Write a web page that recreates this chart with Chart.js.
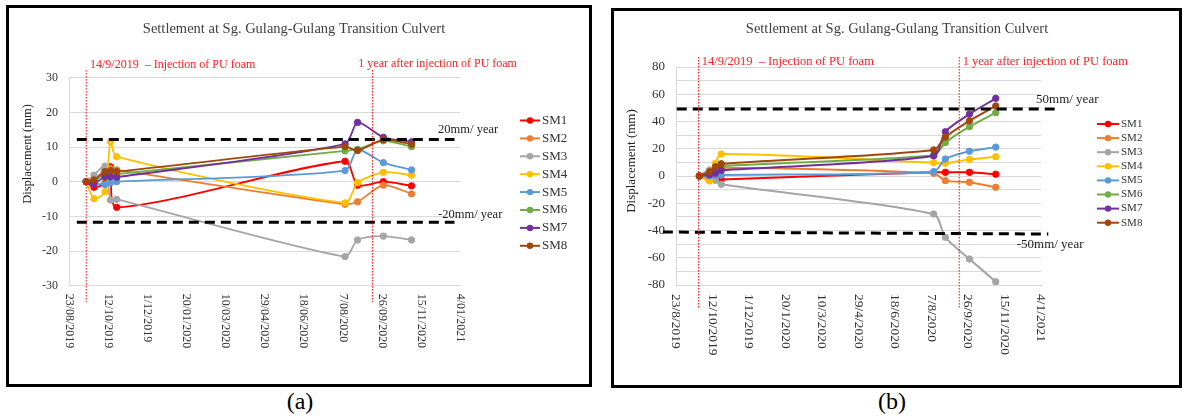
<!DOCTYPE html>
<html>
<head>
<meta charset="utf-8">
<script src="https://cdn.jsdelivr.net/npm/chart.js@4.4.0/dist/chart.umd.min.js"></script>
<style>
html, body { margin: 0; padding: 0; background: #fff; }
body { width: 1182px; height: 419px; position: relative; overflow: hidden; font-family: 'Liberation Serif', 'Times New Roman', serif; }
.box { position: absolute; border: 3px solid #000; background: #fff; }
.box canvas { display: block; }
#boxA { left: 6px; top: 5px; width: 580px; height: 376px; }
#boxB { left: 611px; top: 8px; width: 565px; height: 374px; }
.cap { position: absolute; top: 386px; width: 80px; text-align: center; font-size: 24px; line-height: 30px; color: #000; }
</style>
</head>
<body>
<div class="box" id="boxA"><canvas id="chartA" width="580" height="376"></canvas></div>
<div class="box" id="boxB"><canvas id="chartB" width="565" height="374"></canvas></div>
<div class="cap" style="left:260px">(a)</div>
<div class="cap" style="left:852px">(b)</div>
<script>
// ===== DATA =====
const seriesNames = ['SM1', 'SM2', 'SM3', 'SM4', 'SM5', 'SM6', 'SM7', 'SM8'];
const seriesColors = ['#FF0000', '#ED7D31', '#A5A5A5', '#FFC000', '#5B9BD5', '#70AD47', '#7030A0', '#9E480E'];

// (a)
const datesA = ['2019-09-14', '2019-09-24', '2019-10-08', '2019-10-15', '2019-10-23', '2020-08-10', '2020-08-26', '2020-09-28', '2020-11-03'];
const sm1A = [0, -1.6, -0.5, 4.3, -7.4, 5.9, -1.0, 0.0, -1.2];
const sm2A = [0, 0.5, 3.5, 3.8, 3.4, -6.5, -5.8, -1.0, -3.5];
const sm3A = [0, 1.9, 4.5, -5.3, -5.1, -21.6, -16.8, -15.7, -16.8];
const sm4A = [0, -4.9, -2.9, 11.5, 7.2, -6.1, -0.3, 2.7, 1.9];
const sm5A = [0, -0.5, -0.8, -0.3, 0.0, 3.2, 9.2, 5.5, 3.4];
const sm6A = [0, 0.3, 2.0, 2.1, 2.2, 8.9, 9.3, 11.8, 10.1];
const sm7A = [0, -0.5, 1.4, 1.4, 1.3, 10.9, 17.1, 12.8, 11.5];
const sm8A = [0, 0.5, 2.9, 3.2, 2.9, 10.1, 9.0, 12.1, 10.8];
const xTickLabelsA = ['23/08/2019', '12/10/2019', '1/12/2019', '20/01/2020', '10/03/2020', '29/04/2020', '18/06/2020', '7/08/2020', '26/09/2020', '15/11/2020', '4/01/2021'];
const limitDaysA = [10, 493];
const upperLimitA = [12.2, 12.2];
const lowerLimitA = [-11.7, -11.7];
const markerDatesA = ['2019-09-14', '2020-09-14'];
const markerSpanA = [32.2, -34.7];

// (b)
const datesB = ['2019-09-24', '2019-10-08', '2019-10-16', '2019-10-24', '2020-08-10', '2020-08-26', '2020-09-28', '2020-11-03'];
const sm1B = [0, -1.0, -2.9, -2.6, 2.8, 2.7, 2.7, 1.3];
const sm2B = [0, 1.0, 3.0, 6.0, 2.0, -3.4, -4.6, -8.3];
const sm3B = [0, 4.4, -3.0, -6.1, -27.9, -45.0, -60.9, -77.6];
const sm4B = [0, -3.7, 9.3, 16.1, 9.8, 9.3, 12.2, 14.2];
const sm5B = [0, 0.0, 0.5, 0.7, 3.2, 12.5, 18.2, 21.2];
const sm6B = [0, 2.0, 4.0, 7.3, 15.2, 24.5, 36.2, 46.5];
const sm7B = [0, 1.0, 2.0, 4.2, 14.8, 32.5, 45.4, 57.0];
const sm8B = [0, 3.2, 6.8, 9.0, 19.1, 28.6, 40.5, 51.4];
const xTickLabelsB = ['23/8/2019', '12/10/2019', '1/12/2019', '20/1/2020', '10/3/2020', '29/4/2020', '18/6/2020', '7/8/2020', '26/9/2020', '15/11/2020', '4/1/2021'];
const upperDaysB = [1, 523];
const upperLimitB = [49.2, 49.2];
const lowerDaysB = [-18, 510];
const lowerLimitB = [-41.1, -42.6];
const markerDatesB = ['2019-09-23', '2020-09-14'];
const markerSpanB = [87.3, -97.6];

const TITLE = 'Settlement at Sg. Gulang-Gulang Transition Culvert';
const SERIF = "'Liberation Serif', 'Times New Roman', serif";

// days since 23/08/2019 (first x tick)
function dayNum(s) {
    const [y, m, d] = s.split('-').map(Number);
    return (Date.UTC(y, m - 1, d) - Date.UTC(2019, 7, 23)) / 86400000;
}

function pts(xs, ys) {
    return xs.map((x, i) => ({ x: x, y: ys[i] }));
}

// ===== TEXT / LEGEND PLUGIN =====
const textPlugin = {
    id: 'texts',
    afterDraw(chart, args, o) {
        const { ctx, scales: { x, y } } = chart;
        ctx.save();
        ctx.textBaseline = 'middle';

        // title
        ctx.fillStyle = '#404040';
        ctx.textAlign = 'center';
        ctx.font = `14.5px ${SERIF}`;
        ctx.fillText(TITLE, o.titleX, o.titleY);

        // y axis title
        ctx.save();
        ctx.translate(o.yTitleX, o.yTitleY);
        ctx.rotate(-Math.PI / 2);
        ctx.font = `${o.yTitleSize}px ${SERIF}`;
        ctx.fillStyle = '#222';
        ctx.fillText('Displacement (mm)', 0, 0);
        ctx.restore();

        // x tick labels, rotated clockwise
        ctx.font = `${o.xTickSize}px ${SERIF}`;
        ctx.fillStyle = '#333';
        ctx.textAlign = 'left';
        x.ticks.forEach((t, i) => {
            const px = x.getPixelForValue(t.value);
            ctx.save();
            ctx.translate(px, x.top + o.xTickGap);
            ctx.rotate(Math.PI / 2);
            ctx.fillText(o.xLabels[i] || '', 0, 0);
            ctx.restore();
        });

        // annotations
        o.notes.forEach(n => {
            ctx.font = `${n.size}px ${SERIF}`;
            ctx.fillStyle = n.color;
            ctx.textAlign = 'left';
            ctx.fillText(n.text, x.getPixelForValue(n.day), y.getPixelForValue(n.value));
        });

        // legend
        ctx.font = `${o.legend.size}px ${SERIF}`;
        ctx.textAlign = 'left';
        chart.data.datasets.filter(d => d.isSeries).forEach((d, i) => {
            const ly = o.legend.top + i * o.legend.gap;
            const lx = o.legend.left;
            ctx.strokeStyle = d.borderColor;
            ctx.lineWidth = 2;
            ctx.beginPath();
            ctx.moveTo(lx, ly);
            ctx.lineTo(lx + o.legend.width, ly);
            ctx.stroke();
            ctx.fillStyle = d.borderColor;
            ctx.beginPath();
            ctx.arc(lx + o.legend.width / 2, ly, 3.2, 0, Math.PI * 2);
            ctx.fill();
            ctx.fillStyle = '#333';
            ctx.fillText(d.label, lx + o.legend.width + 2, ly);
        });
        ctx.restore();
    }
};

function buildChart(id, cfg) {
    const days = cfg.dates.map(dayNum);
    const datasets = cfg.series.map((vals, i) => ({
        label: seriesNames[i],
        isSeries: true,
        data: pts(days, vals),
        borderColor: seriesColors[i],
        backgroundColor: seriesColors[i],
        pointBackgroundColor: seriesColors[i],
        pointBorderColor: seriesColors[i],
        borderWidth: cfg.lineWidth,
        pointRadius: 3.2,
        pointBorderWidth: 1,
        tension: 0.25,
        fill: false,
        order: 20 - i
    }));

    // thresholds
    cfg.limits.forEach(l => datasets.push({
        data: pts(l.days, l.vals),
        borderColor: '#000',
        borderWidth: 3,
        borderDash: [10, 6],
        pointRadius: 0,
        tension: 0,
        clip: false,
        order: 1
    }));

    // vertical red markers
    cfg.markers.map(dayNum).forEach(d => datasets.push({
        data: pts([d, d], cfg.markerSpan),
        borderColor: '#FF0000',
        borderWidth: 1,
        borderDash: [1.5, 1.5],
        pointRadius: 0,
        tension: 0,
        clip: false,
        order: 0
    }));

    return new Chart(document.getElementById(id), {
        type: 'line',
        data: { datasets },
        plugins: [textPlugin],
        options: {
            responsive: false,
            animation: false,
            layout: { padding: { top: cfg.area.top, right: cfg.area.right, bottom: 0, left: 0 } },
            plugins: {
                legend: { display: false },
                tooltip: { enabled: false },
                texts: cfg.texts
            },
            scales: {
                x: {
                    type: 'linear',
                    min: 0,
                    max: 500,
                    ticks: { stepSize: 50, display: false, autoSkip: false },
                    grid: { display: false },
                    border: { display: true, color: '#D9D9D9', width: 1 },
                    afterFit: (s) => { s.height = cfg.area.xAxisH; }
                },
                y: {
                    min: cfg.yMin,
                    max: cfg.yMax,
                    ticks: {
                        stepSize: cfg.yStep,
                        autoSkip: false,
                        padding: 11,
                        color: '#333',
                        font: { family: SERIF, size: cfg.yTickSize },
                        callback: (v) => (v % cfg.yLabelEvery === 0 ? v : '')
                    },
                    grid: { color: '#D9D9D9', drawTicks: false, lineWidth: 1 },
                    border: { display: true, color: '#D9D9D9', width: 1 },
                    afterFit: (s) => { s.width = cfg.area.yAxisW; }
                }
            }
        }
    });
}

buildChart('chartA', {
    dates: datesA,
    series: [sm1A, sm2A, sm3A, sm4A, sm5A, sm6A, sm7A, sm8A],
    lineWidth: 1.8,
    limits: [
        { days: limitDaysA, vals: upperLimitA },
        { days: limitDaysA, vals: lowerLimitA }
    ],
    markers: markerDatesA,
    markerSpan: markerSpanA,
    yMin: -30, yMax: 30, yStep: 10, yLabelEvery: 10, yTickSize: 12,
    area: { top: 69.7, right: 129, xAxisH: 98.3, yAxisW: 60 },
    texts: {
        titleX: 285, titleY: 21,
        yTitleX: 19, yTitleY: 146, yTitleSize: 12.5,
        xTickSize: 12, xTickGap: 8, xLabels: xTickLabelsA,
        legend: { left: 511, width: 20, top: 112.5, gap: 17.9, size: 13 },
        notes: [
            { text: '14/9/2019  \u2013 Injection of PU foam', day: 26.9, value: 33.7, size: 12, color: '#FF2020' },
            { text: '1 year after injection of PU foam', day: 370, value: 34.1, size: 12, color: '#FF2020' },
            { text: '20mm/ year', day: 472, value: 14.9, size: 12.5, color: '#222' },
            { text: '-20mm/ year', day: 472, value: -9.5, size: 12.5, color: '#222' }
        ]
    }
});

buildChart('chartB', {
    dates: datesB,
    series: [sm1B, sm2B, sm3B, sm4B, sm5B, sm6B, sm7B, sm8B],
    lineWidth: 2,
    limits: [
        { days: upperDaysB, vals: upperLimitB },
        { days: lowerDaysB, vals: lowerLimitB }
    ],
    markers: markerDatesB,
    markerSpan: markerSpanB,
    yMin: -80, yMax: 80, yStep: 10, yLabelEvery: 20, yTickSize: 13,
    area: { top: 56, right: 138, xAxisH: 100, yAxisW: 62 },
    texts: {
        titleX: 283, titleY: 18,
        yTitleX: 18, yTitleY: 150, yTitleSize: 13,
        xTickSize: 13.5, xTickGap: 9, xLabels: xTickLabelsB,
        legend: { left: 483, width: 22, top: 113, gap: 14.1, size: 11 },
        notes: [
            { text: '14/9/2019  \u2013 Injection of PU foam', day: 35.2, value: 83.7, size: 12.5, color: '#FF2020' },
            { text: '1 year after injection of PU foam', day: 392.7, value: 83.7, size: 12.5, color: '#FF2020' },
            { text: '50mm/ year', day: 493.2, value: 55.8, size: 13, color: '#222' },
            { text: '-50mm/ year', day: 466.7, value: -50.6, size: 13, color: '#222' }
        ]
    }
});
</script>
</body>
</html>
